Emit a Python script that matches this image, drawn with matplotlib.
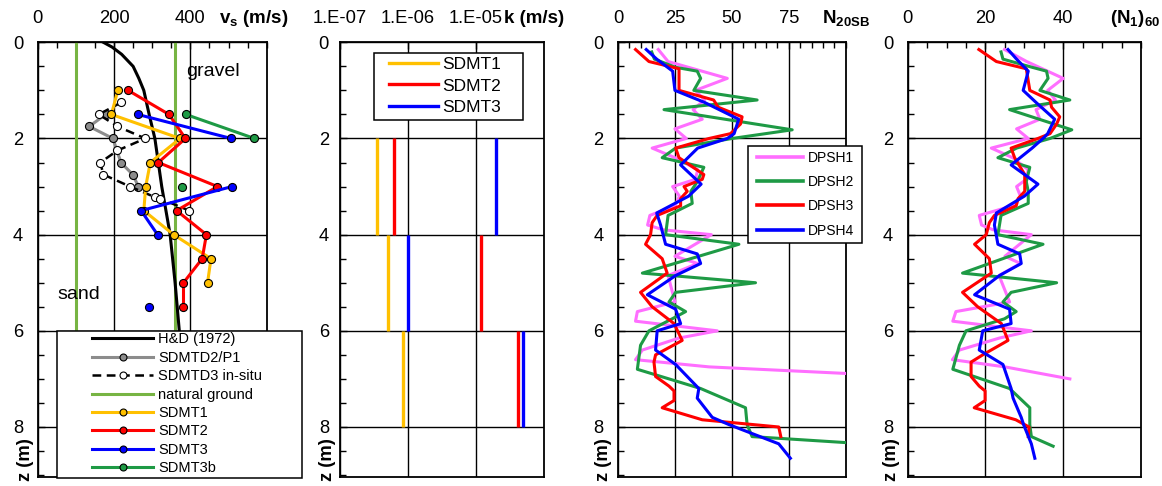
import matplotlib
matplotlib.use("Agg")
import numpy as np
import matplotlib.pyplot as plt
from matplotlib.lines import Line2D
from matplotlib.patches import Rectangle
from matplotlib.ticker import MultipleLocator, LogLocator, NullFormatter

plt.rcParams["font.family"] = ["Liberation Sans", "DejaVu Sans"]
plt.rcParams["mathtext.fontset"] = "custom"
plt.rcParams["mathtext.rm"] = "Liberation Sans"
plt.rcParams["mathtext.bf"] = "Liberation Sans:bold"

W, H = 1162, 486
TOP, BOTTOM = 42.3, 477
ZMAX = 9.04

YELLOW = "#FFC000"
RED = "#FF0000"
BLUE = "#0000FF"
GREEN = "#1E9A45"
NATURAL = "#77B443"
GRAY = "#8C8C8C"
PINK = "#FF6EFF"

# --- shear wave velocity profiles (depth m, vs m/s) ---
hd_z = [0, 0.1, 0.25, 0.5, 0.75, 1.0, 1.5, 2.0, 3.0, 4.0, 5.0, 6.0, 7.0]
hd_vs = [172, 195, 220, 250, 265, 278, 292, 307, 325, 347, 360, 371, 380]

natural_vs = [100, 360]

d2p1_z = [1.5, 1.75, 2.0, 2.5, 2.75, 3.0]
d2p1_vs = [178, 135, 197, 218, 249, 264]

d3_z = [1.25, 1.5, 1.75, 2.0, 2.25, 2.5, 2.75, 3.0, 3.22, 3.25, 3.5]
d3_vs = [219, 160, 209, 282, 209, 164, 172, 242, 307, 321, 397]

sdmt1_z = [1.0, 1.5, 2.0, 2.5, 3.0, 3.5, 4.0, 4.5, 5.0]
sdmt1_vs = [210, 193, 373, 295, 283, 278, 356, 454, 445]

sdmt2_z = [1.0, 1.5, 2.0, 2.5, 3.0, 3.5, 4.0, 4.5, 5.0, 5.5]
sdmt2_vs = [237, 344, 387, 316, 471, 364, 442, 431, 382, 382]

sdmt3_z = [1.5, 2.0, 2.5, 3.0, 3.5, 4.0, 4.5, 5.0, 5.5]
sdmt3_vs = [262, 507, np.nan, 509, 271, 314, np.nan, np.nan, 292]

sdmt3b_z = [1.5, 2.0, 2.5, 3.0]
sdmt3b_vs = [388, 568, np.nan, 378]

# --- permeability from dissipation tests (interval tops/bottoms, k m/s) ---
k_depths = [2, 4, 6, 8]
k_sdmt1 = [3.5e-7, 5.1e-7, 8.5e-7]
k_sdmt2 = [6.2e-7, 1.2e-5, 4.1e-5]
k_sdmt3 = [2.0e-5, 1.0e-6, 4.9e-5]

# --- DPSH blow counts ---
dpsh1_z = [0.15, 0.4, 0.75, 1.0, 1.2, 1.4, 1.6, 1.8, 2.0, 2.2, 2.4, 2.65, 2.85,
           3.0, 3.2, 3.4, 3.6, 3.8, 3.9, 4.0, 4.45, 4.6, 4.85, 5.4, 5.6, 5.8,
           6.0, 6.15, 6.4, 6.6, 6.75, 7.0]
dpsh1_n20 = [17.7, 22, 48, 34, 38, 33, 37, 25, 30, 15, 25, 35, 34,
             24, 27, 25, 14, 13, 20, 41, 25, 35, 22, 25, 8.5, 7.7,
             43.6, 26.8, 10.7, 7.7, 40, 150]
dpsh1_n160 = [24.9, 30.6, 40, 36, 38, 33, 34, 28, 31, 21.5, 27, 31, 30.5,
              28, 29, 27, 18.4, 19, 22, 31.8, 25, 29, 23.5, 26.2, 12.4, 11.6,
              31.8, 23.6, 13.3, 11.5, 25, 41.7]

dpsh2_z = [0.2, 0.35, 0.52, 0.6, 0.75, 1.0, 1.2, 1.4, 1.82, 2.0, 2.2, 2.4, 2.6,
           2.9, 3.1, 3.35, 3.6, 4.0, 4.2, 4.8, 5.0, 5.2, 5.4, 5.6, 5.75, 6.0,
           6.3, 6.8, 7.2, 7.6, 7.95, 8.2, 8.4]
dpsh2_n20 = [14.8, 16, 25.3, 34.8, 36.3, 33.3, 61.1, 20.2, 76.5, 50.1, 25.3, 19.4, 37.7,
             34.8, 32, 32.6, 22, 20.9, 53.1, 10.7, 60.4, 25.3, 22.4, 29.7, 23.8, 13.6,
             9.9, 8.5, 36.3, 56, 56.7, 58.9, 125]
dpsh2_n160 = [24, 24.5, 32, 35.7, 36.1, 34, 41.7, 26.2, 42.2, 36.6, 28, 23.2, 31.4,
              30.5, 31, 31, 24, 23.2, 34.8, 14.1, 38.3, 26.6, 24.5, 27.9, 24.9, 15,
              13.3, 11.6, 26.2, 31.4, 31.4, 31.8, 37.4]

dpsh3_z = [0.15, 0.4, 0.55, 1.0, 1.2, 1.35, 1.55, 1.7, 1.9, 2.0, 2.2, 2.4, 2.75,
           2.85, 3.0, 3.1, 3.25, 3.4, 3.6, 3.75, 4.0, 4.2, 4.5, 4.8, 5.2, 5.5,
           5.85, 6.2, 6.5, 6.65, 6.95, 7.15, 7.25, 7.45, 7.6, 7.85, 8.0, 8.2]
dpsh3_n20 = [7.7, 13.6, 26.8, 26.8, 42, 44, 54.5, 53.8, 49.4, 40, 25.3, 26.8, 37.7,
             37, 29, 30.4, 27.5, 27.5, 17.2, 15, 14.3, 12.1, 19.4, 21.6, 9.9, 15,
             24.6, 28.2, 16.5, 15.8, 16.5, 22.4, 24.6, 24.6, 19.4, 37, 70.6, 71.5]
dpsh3_n160 = [18.3, 22.8, 30.5, 31.4, 36.6, 37, 39.1, 38.3, 36.6, 33.5, 26.6, 27.5, 30.1,
              30.1, 30.1, 30.1, 28.4, 27.9, 22.3, 21, 20.2, 17.2, 21, 21.5, 14.1, 18,
              24.1, 25.8, 19.3, 16.3, 16.3, 18.4, 19.9, 19.9, 17.1, 27.8, 31.2, 31]

dpsh4_z = [0.15, 0.35, 0.6, 1.0, 1.25, 1.6, 1.9, 2.0, 2.2, 2.55, 2.95, 3.2, 3.55,
           3.8, 4.2, 4.4, 4.6, 4.85, 5.25, 5.55, 5.85, 6.0, 6.4, 6.7, 7.2, 7.4,
           7.8, 7.95, 8.35, 8.65]
dpsh4_n20 = [12.4, 17, 24, 25, 38, 53, 51, 48, 35, 27.5, 36.5, 31, 17,
             18.7, 20.9, 34.8, 36.3, 25.3, 12.9, 25.3, 27.5, 17.2, 16.5, 25.3, 35.5, 34.8,
             41.4, 48.7, 70.6, 75.7]
dpsh4_n160 = [25.8, 28, 31, 29.7, 33, 37.8, 36, 34.8, 32, 26.6, 33.5, 30, 22.8,
              22.3, 23.2, 28.8, 29.2, 23.6, 17.2, 26.2, 26.6, 19.3, 18.4, 24.5, 26.6, 27.1,
              29.2, 29.8, 31.8, 32.7]


def fx(px):
    return px / W


def fy(py):
    return 1 - py / H


def make_axes(fig, left, right):
    return fig.add_axes([fx(left), fy(BOTTOM), (right - left) / W, (BOTTOM - TOP) / H])


def style_depth_axis(ax, ypad=10.5):
    ax.set_ylim(ZMAX, 0)
    ax.yaxis.set_major_locator(MultipleLocator(2))
    ax.yaxis.set_minor_locator(MultipleLocator(0.5))
    ax.xaxis.tick_top()
    ax.tick_params(which="both", direction="in", top=True, bottom=False,
                   left=True, right=False, labelsize=13.2, colors="black")
    ax.tick_params(which="major", length=5, width=1.0)
    ax.tick_params(which="minor", length=4, width=1.0)
    ax.tick_params(axis="x", pad=11)
    ax.tick_params(axis="y", pad=ypad)
    ax.grid(True, which="major", color="black", lw=1.0)
    for s in ax.spines.values():
        s.set_linewidth(1.3)
    ax.set_axisbelow(True)


def add_box(fig, x0, y0, x1, y1):
    fig.add_artist(Rectangle((fx(x0), fy(y1)), (x1 - x0) / W, (y1 - y0) / H,
                             transform=fig.transFigure, facecolor="white",
                             edgecolor="black", lw=1.1, zorder=3))


def velocity_panel(fig):
    ax = make_axes(fig, 37.7, 266.7)
    style_depth_axis(ax)
    ax.set_xlim(0, 600)
    ax.set_xticks([0, 200, 400])
    ax.xaxis.set_minor_locator(MultipleLocator(50))

    lw = 2.2
    ms = 5.8
    for v in natural_vs:
        ax.plot([v, v], [0, ZMAX], color=NATURAL, lw=lw, zorder=2)
    ax.plot(hd_vs, hd_z, color="black", lw=lw, zorder=2)
    ax.plot(d2p1_vs, d2p1_z, color=GRAY, lw=lw, marker="o", ms=ms,
            mfc=GRAY, mec="black", mew=0.8, zorder=3)
    ax.plot(d3_vs, d3_z, color="black", lw=1.8, ls=(0, (3.5, 2.2)), marker="o",
            ms=ms, mfc="white", mec="black", mew=0.8, zorder=3)
    for z, v, c in [(sdmt1_z, sdmt1_vs, YELLOW), (sdmt2_z, sdmt2_vs, RED),
                    (sdmt3_z, sdmt3_vs, BLUE), (sdmt3b_z, sdmt3b_vs, GREEN)]:
        ax.plot(v, z, color=c, lw=lw, marker="o", ms=ms, mfc=c,
                mec="black", mew=0.8, zorder=4)

    ax.text(459, 0.6, "gravel", fontsize=14, ha="center", va="center")
    ax.text(107, 5.25, "sand", fontsize=14, ha="center", va="center")
    ax.text(0.945, 1.055, r"$\mathbf{v_s}$ (m/s)", transform=ax.transAxes,
            fontsize=13.5, fontweight="bold", ha="center", va="center")

    add_box(fig, 57, 331, 302, 478)
    handles = [
        Line2D([], [], color="black", lw=lw),
        Line2D([], [], color=GRAY, lw=lw, marker="o", ms=5, mfc=GRAY, mec="black", mew=0.8),
        Line2D([], [], color="black", lw=1.8, ls=(0, (3.5, 2.2)), marker="o", ms=5,
               mfc="white", mec="black", mew=0.8),
        Line2D([], [], color=NATURAL, lw=lw),
        Line2D([], [], color=YELLOW, lw=lw, marker="o", ms=5, mfc=YELLOW, mec="black", mew=0.8),
        Line2D([], [], color=RED, lw=lw, marker="o", ms=5, mfc=RED, mec="black", mew=0.8),
        Line2D([], [], color=BLUE, lw=lw, marker="o", ms=5, mfc=BLUE, mec="black", mew=0.8),
        Line2D([], [], color=GREEN, lw=lw, marker="o", ms=5, mfc=GREEN, mec="black", mew=0.8),
    ]
    labels = ["H&D (1972)", "SDMTD2/P1", "SDMTD3 in-situ", "natural ground",
              "SDMT1", "SDMT2", "SDMT3", "SDMT3b"]
    fig.legend(handles, labels, loc="upper left", bbox_to_anchor=(fx(92), fy(332.5)),
               frameon=False, fontsize=10.5, handlelength=4.2, handletextpad=0.35,
               labelspacing=0.30, borderpad=0, borderaxespad=0, numpoints=1)
    return ax


def permeability_panel(fig):
    ax = make_axes(fig, 340, 544)
    style_depth_axis(ax, ypad=8)
    ax.set_xscale("log")
    ax.set_xlim(1e-7, 1e-4)
    ax.set_xticks([1e-7, 1e-6, 1e-5])
    ax.set_xticklabels(["1.E-07", "1.E-06", "1.E-05"])
    ax.xaxis.set_minor_locator(LogLocator(base=10, subs=np.arange(2, 10)))
    ax.xaxis.set_minor_formatter(NullFormatter())
    ax.tick_params(which="both", top=True, bottom=False)

    for ks, c in [(k_sdmt1, YELLOW), (k_sdmt2, RED), (k_sdmt3, BLUE)]:
        ax.vlines(ks, k_depths[:-1], k_depths[1:], color=c, lw=2.4, zorder=3)

    ax.text(0.95, 1.055, "k (m/s)", transform=ax.transAxes, fontsize=13.5,
            fontweight="bold", ha="center", va="center")

    add_box(fig, 374, 53, 523, 120)
    handles = [Line2D([], [], color=c, lw=2.4) for c in (YELLOW, RED, BLUE)]
    fig.legend(handles, ["SDMT1", "SDMT2", "SDMT3"], loc="upper left",
               bbox_to_anchor=(fx(389), fy(57)), frameon=False, fontsize=12.5,
               handlelength=2.8, handletextpad=0.25, labelspacing=0.36,
               borderpad=0, borderaxespad=0)
    return ax


def dpsh_panel(fig, left, right, xmax, major, values, label, label_x, legend=False):
    ax = make_axes(fig, left, right)
    style_depth_axis(ax)
    ax.set_xlim(0, xmax)
    ax.xaxis.set_major_locator(MultipleLocator(major))
    ax.xaxis.set_minor_locator(MultipleLocator(5))
    ax.set_xticks([t for t in np.arange(0, xmax, major)])

    depths = [dpsh1_z, dpsh2_z, dpsh3_z, dpsh4_z]
    colors = [PINK, GREEN, RED, BLUE]
    for z, v, c in zip(depths, values, colors):
        ax.plot(v, z, color=c, lw=2.2, zorder=3, clip_on=True)

    ax.text(label_x, 1.055, label, transform=ax.transAxes, fontsize=13.5,
            fontweight="bold", ha="center", va="center")

    if legend:
        add_box(fig, 748, 146, 862, 243)
        handles = [Line2D([], [], color=c, lw=2.6) for c in colors]
        fig.legend(handles, ["DPSH1", "DPSH2", "DPSH3", "DPSH4"], loc="upper left",
                   bbox_to_anchor=(fx(756.7), fy(150.5)), frameon=False, fontsize=10,
                   handlelength=3.3, handletextpad=0.36, labelspacing=0.75,
                   borderpad=0, borderaxespad=0)
    return ax


def main():
    fig = plt.figure(figsize=(W / 100, H / 100), dpi=100)

    velocity_panel(fig)
    permeability_panel(fig)
    dpsh_panel(fig, 618, 845.7, 100, 25,
               [dpsh1_n20, dpsh2_n20, dpsh3_n20, dpsh4_n20],
               r"$\mathbf{N_{20SB}}$", 1.0, legend=True)
    dpsh_panel(fig, 907.7, 1141, 60, 20,
               [dpsh1_n160, dpsh2_n160, dpsh3_n160, dpsh4_n160],
               r"$\mathbf{(N_1)_{60}}$", 0.974)

    # depth axis titles sit at the foot of each panel
    for x in (26, 327, 603, 892):
        fig.text(fx(x), fy(460), "z (m)", rotation=90, fontsize=13.2,
                 fontweight="bold", ha="center", va="center")

    fig.savefig("out.png", dpi=100)


if __name__ == "__main__":
    main()
